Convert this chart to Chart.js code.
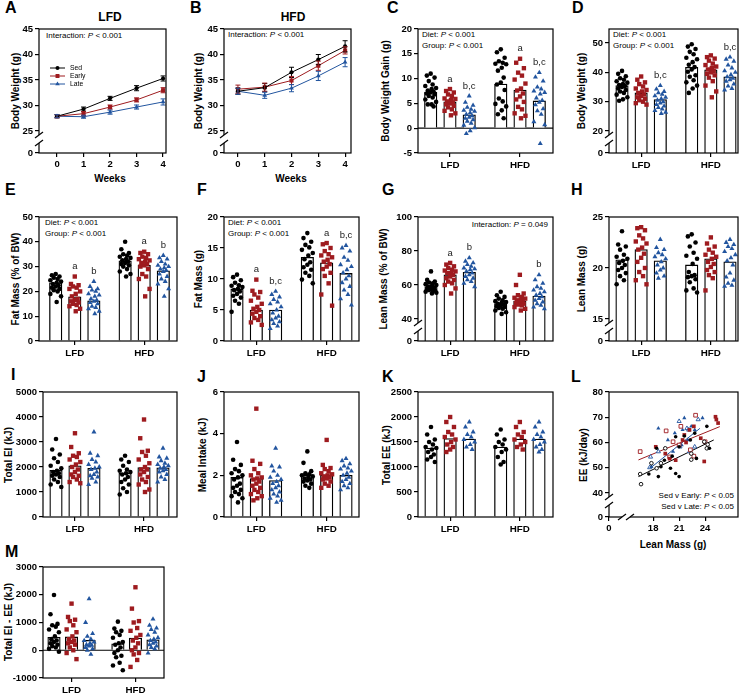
<!DOCTYPE html>
<html>
<head>
<meta charset="utf-8">
<title>Figure</title>
<script src="https://cdn.jsdelivr.net/npm/chart.js@4.4.1/dist/chart.umd.min.js"></script>
<style>
  body { margin: 0; background: #fff; }
  #fig { position: relative; width: 745px; height: 694px; overflow: hidden; font-family: "Liberation Sans", Arial, sans-serif; color: #000; }
  #fig canvas { position: absolute; }
  .letter { position: absolute; font-size: 16px; font-weight: bold; line-height: 16px; }
  .title { position: absolute; font-size: 12px; font-weight: bold; transform: translate(-50%, -50%); white-space: nowrap; }
  .ytitle { position: absolute; font-size: 10px; font-weight: bold; transform: translate(-50%, -50%) rotate(-90deg); white-space: nowrap; }
  .xtitle { position: absolute; font-size: 10px; font-weight: bold; transform: translate(-50%, -50%); white-space: nowrap; }
  .stat { position: absolute; font-size: 8px; line-height: 10.5px; white-space: nowrap; }
</style>
</head>
<body>
<div id="fig">
  <div class="letter" style="left:5px;top:0px">A</div>
  <div class="letter" style="left:190px;top:0px">B</div>
  <div class="letter" style="left:387px;top:0px">C</div>
  <div class="letter" style="left:572px;top:0px">D</div>
  <div class="letter" style="left:5px;top:182px">E</div>
  <div class="letter" style="left:197px;top:182px">F</div>
  <div class="letter" style="left:382px;top:182px">G</div>
  <div class="letter" style="left:571px;top:182px">H</div>
  <div class="letter" style="left:11px;top:367px">I</div>
  <div class="letter" style="left:197px;top:369px">J</div>
  <div class="letter" style="left:382px;top:369px">K</div>
  <div class="letter" style="left:571px;top:369px">L</div>
  <div class="letter" style="left:5px;top:544px">M</div>

  <div class="title" style="left:110px;top:17px">LFD</div>
  <div class="title" style="left:293px;top:17px">HFD</div>

  <div class="ytitle" style="left:15px;top:91px">Body Weight (g)</div>
  <div class="ytitle" style="left:198px;top:91px">Body Weight (g)</div>
  <div class="ytitle" style="left:385px;top:91px">Body Weight Gain (g)</div>
  <div class="ytitle" style="left:581px;top:91px">Body Weight (g)</div>
  <div class="ytitle" style="left:15px;top:279px">Fat Mass (% of BW)</div>
  <div class="ytitle" style="left:198px;top:279px">Fat Mass (g)</div>
  <div class="ytitle" style="left:383px;top:279px">Lean Mass (% of BW)</div>
  <div class="ytitle" style="left:581px;top:279px">Lean Mass (g)</div>
  <div class="ytitle" style="left:8px;top:455px">Total EI (kJ)</div>
  <div class="ytitle" style="left:202px;top:455px">Meal Intake (kJ)</div>
  <div class="ytitle" style="left:386px;top:455px">Total EE (kJ)</div>
  <div class="ytitle" style="left:583px;top:455px">EE (kJ/day)</div>
  <div class="ytitle" style="left:8px;top:622px">Total EI - EE (kJ)</div>

  <div class="xtitle" style="left:110px;top:178px">Weeks</div>
  <div class="xtitle" style="left:291px;top:178px">Weeks</div>
  <div class="xtitle" style="left:673px;top:544px">Lean Mass (g)</div>

  <div class="stat" style="left:46px;top:31px">Interaction: <i>P</i> &lt; 0.001</div>
  <div class="stat" style="left:228px;top:30px">Interaction: <i>P</i> &lt; 0.001</div>
  <div class="stat" style="left:422px;top:30px">Diet: <i>P</i> &lt; 0.001<br>Group: <i>P</i> &lt; 0.001</div>
  <div class="stat" style="left:613px;top:30px">Diet: <i>P</i> &lt; 0.001<br>Group: <i>P</i> &lt; 0.001</div>
  <div class="stat" style="left:45px;top:218px">Diet: <i>P</i> &lt; 0.001<br>Group: <i>P</i> &lt; 0.001</div>
  <div class="stat" style="left:228px;top:218px">Diet: <i>P</i> &lt; 0.001<br>Group: <i>P</i> &lt; 0.001</div>
  <div class="stat" style="right:197px;top:220px;text-align:right">Interaction: <i>P</i> = 0.049</div>
  <div class="stat" style="right:11px;top:491px;text-align:right">Sed v Early: <i>P</i> &lt; 0.05<br>Sed v Late: <i>P</i> &lt; 0.05</div>
</div>

<script>
// ---- data ----
const GROUPS = ['Sed', 'Early', 'Late'];
const DIETS = ['LFD', 'HFD'];
const weeks = [0, 1, 2, 3, 4];

// A: LFD body weight (g)
const lfdSed = [27.9, 29.3, 31.4, 33.4, 35.3];
const lfdEarly = [27.9, 28.4, 29.7, 31.1, 33.0];
const lfdLate = [27.9, 27.8, 28.7, 29.7, 30.7];
const lfdSedErr = [0.3, 0.4, 0.4, 0.5, 0.5];
const lfdEarlyErr = [0.3, 0.4, 0.4, 0.4, 0.5];
const lfdLateErr = [0.3, 0.3, 0.4, 0.4, 0.6];

// B: HFD body weight (g)
const hfdSed = [32.8, 33.5, 36.5, 39.0, 41.6];
const hfdEarly = [33.2, 33.6, 34.9, 37.8, 40.8];
const hfdLate = [32.8, 32.0, 33.4, 35.8, 38.5];
const hfdSedErr = [0.6, 0.8, 1.0, 1.0, 1.1];
const hfdEarlyErr = [0.8, 0.8, 0.8, 0.9, 0.7];
const hfdLateErr = [0.6, 0.6, 0.7, 0.9, 0.9];

// bar panels: order LFD Sed, Early, Late, HFD Sed, Early, Late
const gainMeans = [7.3, 5.3, 2.7, 8.9, 7.7, 5.5];
const gainLetters = ['', 'a', 'b,c', '', 'a', 'b,c'];
const gainPts = [
  [11.0, 10.6, 10.2, 9.5, 8.8, 8.5, 8.1, 7.9, 7.6, 7.4, 7.2, 7.0, 6.8, 6.5, 6.2, 5.8, 5.3, 4.8, 4.4, 4.8],
  [7.9, 7.5, 7.2, 6.8, 6.5, 6.0, 5.9, 5.7, 5.4, 5.2, 5.0, 4.8, 4.5, 4.2, 3.8, 3.5, 3.0, 2.6],
  [6.5, 5.2, 4.6, 4.2, 3.8, 3.6, 3.4, 3.1, 2.8, 2.5, 2.2, 2.0, 1.7, 1.4, 1.0, 0.6, 0.1, -0.5, -1.1],
  [15.9, 15.3, 14.2, 13.5, 13.2, 13.0, 12.9, 12.2, 11.6, 10.2, 9.2, 8.8, 7.7, 6.0, 5.4, 4.9, 4.4, 3.6, 2.8, 2.0],
  [14.0, 13.2, 12.1, 11.2, 10.6, 9.8, 9.0, 8.0, 7.6, 7.0, 6.4, 5.8, 5.3, 4.3, 3.8, 3.0, 2.5, 2.0],
  [11.2, 10.3, 9.5, 8.3, 7.9, 7.5, 7.2, 6.9, 6.1, 5.6, 5.2, 4.7, 3.9, 3.5, 2.8, 1.3, 0.7, -3.1]
];

const bwMeans = [35.5, 33.0, 30.7, 41.7, 40.9, 38.5];
const bwLetters = ['', '', 'b,c', '', '', 'b,c'];
const bwPts = [
  [40.5, 39.5, 38.7, 38.0, 37.5, 37.0, 36.5, 36.0, 35.7, 35.3, 35.0, 34.5, 34.0, 33.5, 33.0, 32.4, 31.5, 30.8, 30.3],
  [38.6, 37.5, 36.6, 36.0, 35.2, 34.5, 34.0, 33.5, 33.0, 32.5, 32.0, 31.5, 31.0, 30.5, 30.0, 29.5, 29.0],
  [35.5, 34.3, 33.5, 33.0, 32.5, 32.0, 31.5, 31.0, 30.5, 30.0, 29.5, 29.0, 28.5, 28.0, 27.5, 27.0, 26.4, 26.0],
  [49.6, 48.8, 48.0, 47.0, 46.2, 45.0, 44.5, 43.5, 42.6, 41.8, 41.0, 40.2, 39.0, 38.5, 37.3, 36.6, 35.5, 34.5, 33.0],
  [45.8, 45.2, 44.7, 44.0, 43.0, 42.5, 42.0, 41.5, 41.0, 40.5, 40.0, 39.5, 39.0, 38.2, 37.0, 35.5, 33.5, 31.5],
  [45.2, 44.5, 43.8, 42.5, 41.5, 40.5, 40.0, 39.2, 38.5, 38.0, 37.5, 37.0, 36.0, 35.3, 34.5, 34.0]
];

const fatPctMeans = [23.5, 17.8, 16.2, 32.3, 30.5, 28.3];
const fatPctLetters = ['', 'a', 'b', '', 'a', 'b'];
const fatPctPts = [
  [27, 26.5, 26, 25.5, 25, 24.5, 24, 23.5, 23, 22.5, 22, 21.5, 21, 20.5, 20, 19, 18, 15.7],
  [26, 23, 22.5, 22, 21.5, 21, 20, 19, 18, 17, 16.5, 16, 15.5, 15, 14.5, 14, 13, 12],
  [24, 22, 21, 20.5, 20, 19, 18.5, 18, 17, 16.5, 16, 15.5, 15, 14, 13.5, 13, 12, 11],
  [40, 37, 35.5, 35, 34.5, 34, 33.5, 33, 32.5, 32, 31.5, 31, 30.5, 30, 29, 28, 27, 26],
  [36, 35.5, 35, 34, 33.5, 33, 32.5, 32, 31.5, 31, 30.5, 30, 29, 27, 26, 25, 21, 18],
  [34.5, 33.5, 33, 32, 31, 30.5, 30, 29.5, 29, 28.5, 28, 27, 26, 25, 24, 23, 21, 18]
];

const fatMeans = [8.4, 5.0, 5.0, 13.5, 12.6, 10.9];
const fatLetters = ['', 'a', 'b,c', '', 'a', 'b,c'];
const fatPts = [
  [10.7, 10.3, 9.8, 9.4, 9.0, 8.9, 8.7, 8.4, 8.2, 8.0, 7.6, 7.3, 7.0, 6.5, 6.0, 4.7],
  [9.9, 8.1, 7.9, 7.5, 7.0, 6.5, 6.0, 5.5, 5.2, 5.0, 4.7, 4.4, 4.0, 3.7, 3.4, 3.0, 2.6],
  [8.0, 7.5, 7.1, 6.7, 6.3, 6.0, 5.5, 5.0, 4.5, 4.0, 3.7, 3.4, 3.1, 2.8, 2.4, 2.0],
  [17.4, 16.6, 16.0, 15.5, 15.1, 14.7, 14.2, 13.8, 13.2, 12.7, 12.3, 11.9, 11.5, 11.0, 10.5, 9.9, 9.3],
  [15.8, 15.6, 15.0, 14.5, 14.0, 13.8, 13.5, 13.1, 12.8, 12.4, 12.0, 11.6, 11.0, 10.5, 9.3, 7.5, 5.7],
  [15.4, 15.0, 14.5, 13.5, 13.0, 12.3, 12.0, 11.5, 11.0, 10.5, 10.0, 9.4, 8.8, 8.2, 7.5, 6.8, 5.8]
];

const leanPctMeans = [59, 66, 67.5, 49, 50.5, 53.5];
const leanPctLetters = ['', 'a', 'b', '', '', 'b'];
const leanPctPts = [
  [68, 63, 62, 61.5, 61, 60.5, 60, 59.5, 59, 58.5, 58, 57.5, 57, 57, 56.5, 56, 55.5, 55],
  [73, 72, 71, 70, 69, 68.5, 68, 67, 67, 66, 65, 64, 63, 62, 61, 60, 58, 55],
  [76, 74, 73, 72, 71, 70, 69.5, 69, 68, 67, 66, 65, 64, 63, 62, 61, 59],
  [56, 54, 53, 52, 51, 50.5, 50, 49.5, 49, 48.5, 48, 47.5, 47, 46.5, 46, 45, 44, 43],
  [66, 60, 55, 54, 53, 52.5, 52, 51.5, 51, 50.5, 50, 49.5, 49, 48.5, 48, 47, 46, 45],
  [66, 63, 61, 59, 58, 57, 56, 55, 54, 53, 52, 51, 50, 49, 48, 47, 46]
];

const leanMeans = [20.8, 21.8, 20.7, 20.3, 20.9, 20.6];
const leanLetters = ['', '', '', '', '', ''];
const leanPts = [
  [23.6, 22.3, 22.1, 21.8, 21.3, 21.1, 20.9, 20.7, 20.5, 20.3, 20.0, 19.8, 19.5, 19.2, 18.8, 18.4],
  [24.0, 23.9, 23.7, 23.2, 22.9, 22.6, 22.4, 22.0, 21.8, 21.4, 21.0, 20.6, 20.0, 19.6, 19.2, 18.8, 18.4],
  [22.8, 22.0, 21.8, 21.5, 21.3, 21.1, 20.9, 20.6, 20.3, 20.0, 19.8, 19.5, 19.2, 19.0],
  [23.3, 23.1, 22.5, 22.1, 21.5, 21.2, 20.9, 20.4, 19.6, 19.3, 19.2, 19.1, 18.9, 18.6, 18.0, 17.8, 17.6],
  [23.0, 22.4, 22.1, 21.8, 21.5, 21.3, 21.1, 20.9, 20.6, 20.4, 20.1, 19.8, 19.6, 19.3, 19.0, 17.8],
  [22.8, 22.5, 22.3, 22.1, 21.9, 21.6, 21.3, 21.0, 20.7, 20.3, 19.5, 19.1, 18.8, 18.5, 18.3, 18.2]
];

const eiMeans = [1870, 2050, 1950, 1750, 1980, 1970];
const eiPts = [
  [3120, 2700, 2500, 2350, 2200, 2050, 1950, 1850, 1800, 1750, 1700, 1650, 1600, 1500, 1400, 1300, 1200],
  [3350, 2800, 2550, 2450, 2400, 2300, 2200, 2100, 2000, 1900, 1800, 1700, 1650, 1600, 1500, 1400, 1350],
  [3400, 2550, 2450, 2300, 2200, 2100, 2000, 1950, 1900, 1800, 1700, 1650, 1600, 1550, 1400, 1300],
  [2450, 2300, 2200, 2050, 1900, 1850, 1800, 1750, 1700, 1600, 1500, 1400, 1300, 1150, 1000, 900],
  [3900, 3150, 2650, 2600, 2450, 2300, 2150, 2000, 1900, 1900, 1800, 1700, 1600, 1500, 1400, 1300, 1100, 1000],
  [2750, 2400, 2350, 2250, 2150, 2100, 2050, 2000, 1950, 1900, 1850, 1800, 1700, 1600, 1500, 1400]
];

const mealMeans = [1.9, 1.85, 1.75, 2.0, 2.0, 2.0];
const mealPts = [
  [3.6, 2.75, 2.5, 2.3, 2.2, 2.1, 2.0, 1.9, 1.8, 1.6, 1.5, 1.4, 1.3, 1.2, 1.1, 1.0, 0.9, 0.7],
  [5.2, 2.7, 2.55, 2.3, 2.1, 2.0, 1.9, 1.85, 1.8, 1.7, 1.6, 1.5, 1.4, 1.3, 1.2, 1.1, 1.0, 0.9, 0.8],
  [3.3, 2.45, 2.4, 2.2, 2.0, 1.9, 1.8, 1.7, 1.6, 1.5, 1.4, 1.3, 1.2, 1.1, 1.0, 0.9, 0.8, 0.7],
  [3.15, 2.6, 2.2, 2.1, 2.05, 2.0, 1.95, 1.9, 1.85, 1.8, 1.75, 1.7, 1.6, 1.5, 1.4],
  [3.7, 2.5, 2.35, 2.3, 2.2, 2.1, 2.05, 2.0, 1.95, 1.9, 1.85, 1.8, 1.7, 1.6, 1.5, 1.4],
  [2.8, 2.7, 2.55, 2.45, 2.35, 2.3, 2.2, 2.1, 2.0, 1.9, 1.8, 1.7, 1.6, 1.5, 1.4, 1.3]
];

const eeMeans = [1380, 1570, 1560, 1400, 1560, 1560];
const eePts = [
  [1800, 1650, 1550, 1500, 1450, 1400, 1380, 1350, 1300, 1250, 1200, 1150, 1100],
  [2000, 1900, 1800, 1700, 1650, 1600, 1550, 1500, 1450, 1400, 1350, 1300],
  [1900, 1800, 1700, 1650, 1600, 1550, 1500, 1450, 1400, 1350],
  [1750, 1650, 1550, 1500, 1450, 1400, 1350, 1300, 1200, 1100, 1050],
  [1900, 1800, 1700, 1650, 1600, 1550, 1500, 1450, 1400, 1350],
  [1900, 1800, 1700, 1650, 1600, 1550, 1500, 1450, 1400, 1350, 1300]
];

const balMeans = [470, 480, 360, 230, 440, 380];
const balPts = [
  [1990, 1300, 950, 900, 850, 750, 650, 500, 400, 350, 300, 250, 200, 150, 100, 50, -50],
  [1680, 1200, 1100, 1050, 900, 750, 650, 500, 400, 350, 300, 250, 200, 100, 0, -100, -320],
  [1850, 1000, 600, 500, 400, 350, 300, 250, 200, 180, 150, 100, 50, 0, -150],
  [1030, 780, 700, 650, 550, 450, 300, 250, 200, 100, 0, -100, -200, -250, -450, -550, -720],
  [2270, 1500, 1050, 1000, 800, 700, 550, 450, 350, 250, 100, 0, -100, -150, -350, -600],
  [1120, 900, 800, 750, 650, 550, 450, 400, 350, 300, 250, 200, 150, 100, 50, -100]
];

// L: lean mass (g) vs EE (kJ/day); filled = LFD, open = HFD
const sedLfdEE = [[18.4, 57.7], [19.3, 53.0], [18.9, 50.4], [20.2, 54.6], [20.6, 47.7], [18.6, 46.5], [17.5, 47.5], [21.0, 58.3], [20.6, 62.3], [21.6, 62.6], [22.3, 61.0], [23.0, 53.7], [24.5, 57.7], [22.8, 63.7], [24.2, 66.4], [21.0, 46.5], [20.0, 49.8]];
const sedHfdEE = [[16.5, 47.5], [16.6, 43.5], [17.8, 51.8], [18.9, 51.8], [18.4, 49.8], [22.4, 55.6], [22.4, 53.2], [24.2, 57.7], [24.3, 59.2], [23.9, 60.3], [19.4, 57.7]];
const earlyLfdEE = [[18.3, 58.3], [19.4, 55.6], [19.9, 53.6], [21.4, 61.0], [21.6, 63.0], [21.8, 60.0], [22.2, 65.0], [22.7, 66.4], [23.5, 61.7], [23.9, 52.5], [25.2, 70.2], [25.3, 69.1], [25.5, 67.7], [20.6, 53.0]];
const earlyHfdEE = [[16.5, 56.4], [19.5, 64.6], [20.3, 60.3], [21.0, 59.0], [21.2, 66.4], [22.3, 57.1], [22.7, 54.6], [22.9, 70.8], [24.0, 60.3], [19.9, 54.3]];
const lateLfdEE = [[18.6, 65.6], [17.8, 50.4], [19.7, 61.0], [20.5, 63.7], [21.4, 65.0], [21.6, 69.7], [22.0, 61.0], [22.4, 66.4], [23.7, 69.7], [21.3, 59.0], [20.3, 56.4], [22.8, 65.0]];
const lateHfdEE = [[17.7, 54.3], [17.6, 50.1], [18.6, 56.4], [21.0, 68.4], [21.9, 65.6], [21.1, 58.3], [22.2, 56.4], [22.8, 58.3], [23.2, 69.1], [22.1, 65.0]];
// regression line end points (lean, EE)
const sedFit = [[16.3, 46.5], [25.0, 61.0]];
const earlyFit = [[16.3, 53.1], [25.7, 66.3]];
const lateFit = [[17.65, 49.8], [23.4, 65.6]];

// ---- layout / style ----
const COLORS = ['#000000', '#9e1b1f', '#22559f'];
const STYLES = ['circle', 'rect', 'triangle'];
const RADII = [2.3, 3.1, 2.9];
const GAP = 1.64;
const POS = [0, 1, 2, 2 + GAP, 3 + GAP, 4 + GAP];
const DIET_POS = [1, 3 + GAP];
const JIT = [0, -0.2, 0.2, -0.1, 0.1, -0.28, 0.28, 0.05, -0.15, 0.15];
const FONT = '"Liberation Sans", Arial, sans-serif';
const TICKFONT = { family: FONT, size: 9.5, weight: 'bold' };
const XFONT = { family: FONT, size: 9.8, weight: 'bold' };
const ML = 36, MT = 10, MR = 8, MB = 24;
const fig = document.getElementById('fig');

function canvasFor(box) {
  const c = document.createElement('canvas');
  const w = ML + (box[2] - box[0]) + MR, h = MT + (box[3] - box[1]) + MB;
  c.width = w; c.height = h;
  c.style.left = (box[0] - ML) + 'px';
  c.style.top = (box[1] - MT) + 'px';
  c.style.width = w + 'px';
  c.style.height = h + 'px';
  fig.appendChild(c);
  return c;
}

function axisBase() {
  return {
    type: 'linear',
    offset: false,
    border: { display: false },
    grid: { offset: false, drawOnChartArea: false, tickLength: 4, color: '#000', lineWidth: 1.2 },
  };
}

function yAxis(o) {
  const ticks = o.brk ? [o.ymin].concat(o.yticks) : o.yticks;
  return Object.assign(axisBase(), {
    min: o.ymin, max: o.ymax,
    ticks: { color: '#000', font: TICKFONT, padding: 2, callback: v => (o.brk && v === o.ymin) ? '0' : v },
    afterBuildTicks: s => { s.ticks = ticks.map(v => ({ value: v })); },
    afterFit: s => { s.width = ML; }
  });
}

function xAxis(min, max, ticks, labelFn, font) {
  return Object.assign(axisBase(), {
    min: min, max: max,
    ticks: { color: '#000', font: font, padding: 2, autoSkip: false, maxRotation: 0, callback: labelFn },
    afterBuildTicks: s => { s.ticks = ticks.map(v => ({ value: v })); },
    afterFit: s => { s.height = MB; }
  });
}

function slash(ctx, x, y) {
  ctx.beginPath();
  ctx.moveTo(x - 4, y + 3);
  ctx.lineTo(x + 4, y - 3);
  ctx.stroke();
}

// frame, axis breaks, zero line, letters, error bars, legend
function deco(o) {
  return {
    id: 'deco',
    beforeDatasetsDraw(chart) {
      if (!o.zero) return;
      const { ctx, chartArea: a } = chart;
      const y = chart.scales.y.getPixelForValue(0);
      ctx.save(); ctx.strokeStyle = '#000'; ctx.lineWidth = 1.2;
      ctx.beginPath(); ctx.moveTo(a.left, y); ctx.lineTo(a.right, y); ctx.stroke();
      ctx.restore();
    },
    afterDatasetsDraw(chart) {
      const ctx = chart.ctx, ys = chart.scales.y, xs = chart.scales.x;
      ctx.save();
      if (o.errors) {
        o.errors.forEach((errs, i) => {
          const meta = chart.getDatasetMeta(i);
          ctx.strokeStyle = COLORS[i]; ctx.lineWidth = 1;
          meta.data.forEach((el, j) => {
            const v = o.series[i][j], e = errs[j];
            const y1 = ys.getPixelForValue(v + e), y2 = ys.getPixelForValue(v - e);
            ctx.beginPath();
            ctx.moveTo(el.x, y1); ctx.lineTo(el.x, y2);
            ctx.moveTo(el.x - 2.5, y1); ctx.lineTo(el.x + 2.5, y1);
            ctx.moveTo(el.x - 2.5, y2); ctx.lineTo(el.x + 2.5, y2);
            ctx.stroke();
          });
        });
      }
      if (o.letters) {
        ctx.fillStyle = '#222';
        ctx.font = '9.5px ' + FONT;
        ctx.textAlign = 'center'; ctx.textBaseline = 'middle';
        o.letters.forEach((t, i) => {
          if (!t) return;
          const top = Math.max.apply(null, o.pts[i]);
          ctx.fillText(t, xs.getPixelForValue(POS[i]), ys.getPixelForValue(top) - 10);
        });
      }
      ctx.restore();
    },
    afterDraw(chart) {
      const { ctx, chartArea: a } = chart;
      ctx.save();
      ctx.strokeStyle = '#000'; ctx.lineWidth = 1.2;
      ctx.strokeRect(a.left, a.top, a.right - a.left, a.bottom - a.top);
      if (o.brk) {
        const y0 = chart.scales.y.getPixelForValue(o.yticks[0]) + 4;
        ctx.fillStyle = '#fff';
        ctx.fillRect(a.left - 3, y0, 6, 8);
        slash(ctx, a.left, y0); slash(ctx, a.left, y0 + 8);
      }
      if (o.xbrk) {
        const x0 = a.left + 13;
        ctx.fillStyle = '#fff';
        ctx.fillRect(x0, a.bottom - 3, 8, 6);
        slash(ctx, x0, a.bottom); slash(ctx, x0 + 8, a.bottom);
      }
      if (o.legend) {
        ctx.font = '6.8px ' + FONT;
        ctx.textBaseline = 'middle'; ctx.textAlign = 'left';
        GROUPS.forEach((g, i) => {
          const y = a.top + 39 + i * 8;
          ctx.strokeStyle = COLORS[i]; ctx.fillStyle = COLORS[i]; ctx.lineWidth = 1;
          ctx.beginPath(); ctx.moveTo(a.left + 11, y); ctx.lineTo(a.left + 26, y); ctx.stroke();
          Chart.helpers.drawPoint(ctx, { pointStyle: STYLES[i], radius: RADII[i] - 0.3, rotation: 0, borderWidth: 0 }, a.left + 18.5, y);
          ctx.fillStyle = '#000';
          ctx.fillText(g, a.left + 31, y);
        });
      }
      ctx.restore();
    }
  };
}

const baseOptions = () => ({
  responsive: false,
  animation: false,
  events: [],
  layout: { padding: { top: MT, right: MR, left: 0, bottom: 0 } },
  plugins: { legend: { display: false }, tooltip: { enabled: false } }
});

function linePanel(o) {
  const canvas = canvasFor(o.box);
  const datasets = o.series.map((s, i) => ({
    label: GROUPS[i],
    data: weeks.map((w, j) => ({ x: w, y: s[j] })),
    borderColor: COLORS[i], backgroundColor: COLORS[i],
    borderWidth: 1, pointStyle: STYLES[i], pointRadius: RADII[i] - 0.2,
    pointBorderWidth: 0
  }));
  const opts = baseOptions();
  opts.scales = { x: xAxis(o.xmin, o.xmax, weeks, v => v, TICKFONT), y: yAxis(o) };
  new Chart(canvas, { type: 'line', data: { datasets }, options: opts, plugins: [deco(o)] });
}

function swarm(vals) {
  return vals.slice().sort((a, b) => b - a).map((v, k) => [v, JIT[k % JIT.length]]);
}

function barPanel(o) {
  const canvas = canvasFor(o.box);
  const [l, , r] = o.box;
  const unit = (o.p5 - o.p0) / POS[5];
  const xmin = -(o.p0 - l) / unit, xmax = POS[5] + (r - o.p5) / unit;
  const datasets = o.pts.map((vals, i) => ({
    type: 'scatter', order: 0,
    label: DIETS[Math.floor(i / 3)] + ' ' + GROUPS[i % 3],
    data: swarm(vals).map(([v, off]) => ({ x: POS[i] + off, y: v })),
    pointStyle: STYLES[i % 3], pointRadius: RADII[i % 3],
    backgroundColor: COLORS[i % 3], borderColor: COLORS[i % 3], pointBorderWidth: 0
  }));
  datasets.push({
    type: 'bar', order: 1, label: 'mean',
    data: o.means.map((m, i) => ({ x: POS[i], y: m })),
    backgroundColor: '#fff', borderColor: '#000', borderWidth: 1.3, barThickness: 12.5
  });
  const opts = baseOptions();
  opts.scales = { x: xAxis(xmin, xmax, DIET_POS, (v, i) => DIETS[i], XFONT), y: yAxis(o) };
  new Chart(canvas, { type: 'bar', data: { datasets }, options: opts, plugins: [deco(o)] });
}

function scatterPanel(o) {
  const canvas = canvasFor(o.box);
  const sets = [sedLfdEE, sedHfdEE, earlyLfdEE, earlyHfdEE, lateLfdEE, lateHfdEE];
  const fits = [sedFit, earlyFit, lateFit];
  const datasets = fits.map((f, g) => ({
    type: 'line', order: 1, label: GROUPS[g] + ' fit',
    data: f.map(p => ({ x: p[0], y: p[1] })),
    borderColor: COLORS[g], borderWidth: 1, pointRadius: 0
  }));
  sets.forEach((pts, k) => {
    const g = Math.floor(k / 2), open = k % 2 === 1;
    datasets.push({
      type: 'scatter', order: 0, label: GROUPS[g] + (open ? ' HFD' : ' LFD'),
      data: pts.map(p => ({ x: p[0], y: p[1] })),
      pointStyle: STYLES[g], pointRadius: RADII[g] - 0.5,
      backgroundColor: open ? '#fff' : COLORS[g], borderColor: COLORS[g],
      pointBorderWidth: open ? 0.9 : 0
    });
  });
  const opts = baseOptions();
  const xt = [o.xmin, 18, 21, 24];
  opts.scales = { x: xAxis(o.xmin, o.xmax, xt, v => v === o.xmin ? '0' : v, TICKFONT), y: yAxis(o) };
  new Chart(canvas, { type: 'scatter', data: { datasets }, options: opts, plugins: [deco(o)] });
}

// ---- panels ----
linePanel({ box: [39, 29, 166, 153], xmin: -0.68, xmax: 4.11, ymin: 20.69, ymax: 45, yticks: [25, 30, 35, 40, 45], brk: true,
  series: [lfdSed, lfdEarly, lfdLate], errors: [lfdSedErr, lfdEarlyErr, lfdLateErr], legend: true });
linePanel({ box: [224, 29, 351, 153], xmin: -0.52, xmax: 4.22, ymin: 20.69, ymax: 45, yticks: [25, 30, 35, 40, 45], brk: true,
  series: [hfdSed, hfdEarly, hfdLate], errors: [hfdSedErr, hfdEarlyErr, hfdLateErr] });

barPanel({ box: [418, 29, 553, 153], p0: 430.7, p5: 539.3, ymin: -5, ymax: 20, yticks: [-5, 0, 5, 10, 15, 20], zero: true,
  means: gainMeans, pts: gainPts, letters: gainLetters });
barPanel({ box: [609, 29, 738, 153], p0: 622, p5: 730, ymin: 12.5, ymax: 54.8, yticks: [20, 30, 40, 50], brk: true,
  means: bwMeans, pts: bwPts, letters: bwLetters });

barPanel({ box: [39, 217, 177, 341], p0: 55.7, p5: 163.3, ymin: 0, ymax: 50, yticks: [0, 10, 20, 30, 40, 50],
  means: fatPctMeans, pts: fatPctPts, letters: fatPctLetters });
barPanel({ box: [224, 217, 359, 341], p0: 237, p5: 346, ymin: 0, ymax: 20, yticks: [0, 5, 10, 15, 20],
  means: fatMeans, pts: fatPts, letters: fatLetters });
barPanel({ box: [418, 217, 553, 341], p0: 431, p5: 539, ymin: 27.06, ymax: 100, yticks: [40, 60, 80, 100], brk: true,
  means: leanPctMeans, pts: leanPctPts, letters: leanPctLetters });
barPanel({ box: [609, 217, 738, 341], p0: 622, p5: 730, ymin: 12.84, ymax: 25, yticks: [15, 20, 25], brk: true,
  means: leanMeans, pts: leanPts, letters: leanLetters });

barPanel({ box: [43, 392, 177, 517], p0: 56, p5: 163, ymin: 0, ymax: 5000, yticks: [0, 1000, 2000, 3000, 4000, 5000],
  means: eiMeans, pts: eiPts });
barPanel({ box: [224, 392, 359, 517], p0: 237, p5: 346, ymin: 0, ymax: 6, yticks: [0, 2, 4, 6],
  means: mealMeans, pts: mealPts });
barPanel({ box: [418, 392, 553, 517], p0: 431, p5: 539, ymin: 0, ymax: 2500, yticks: [0, 500, 1000, 1500, 2000, 2500],
  means: eeMeans, pts: eePts });
scatterPanel({ box: [609, 392, 738, 517], xmin: 12.9, xmax: 27.8, ymin: 30.5, ymax: 80, yticks: [40, 50, 60, 70, 80], brk: true, xbrk: true });

barPanel({ box: [43, 567, 164, 678], p0: 54, p5: 153, ymin: -1000, ymax: 3000, yticks: [-1000, 0, 1000, 2000, 3000], zero: true,
  means: balMeans, pts: balPts });
</script>
</body>
</html>
